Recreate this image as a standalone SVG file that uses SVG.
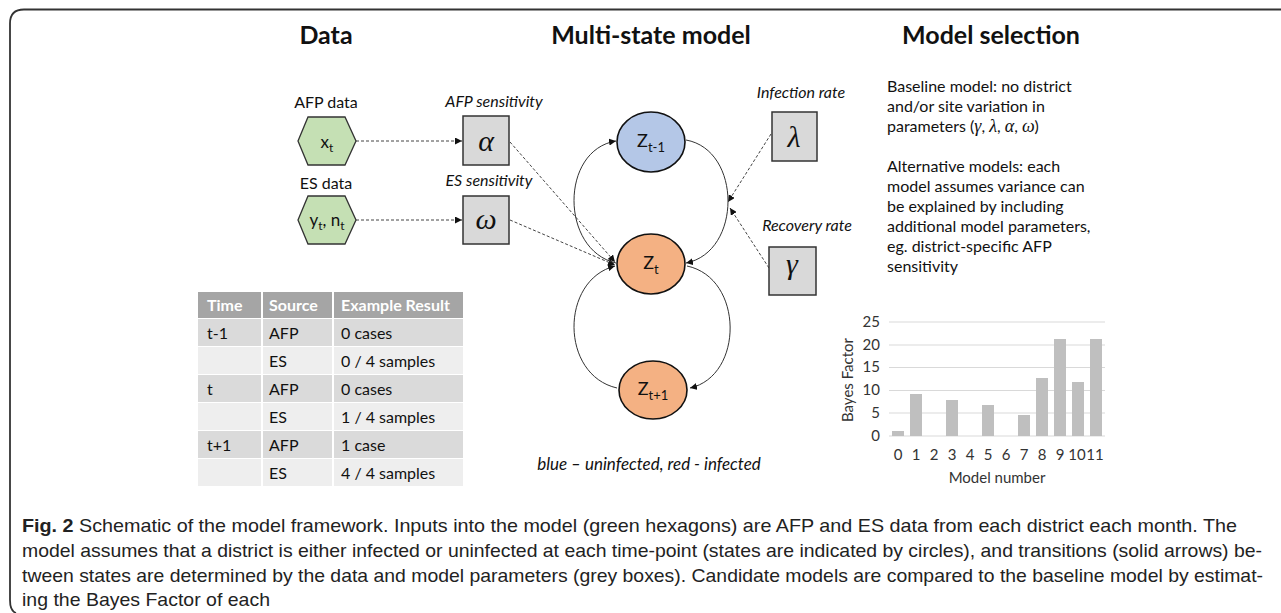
<svg xmlns="http://www.w3.org/2000/svg" width="1281" height="613" viewBox="0 0 1281 613">
<defs>
<marker id="ah" viewBox="0 0 10 10" refX="10" refY="5" markerWidth="7" markerHeight="7" markerUnits="userSpaceOnUse" orient="auto"><path d="M0,0 L10,5 L0,10 z" fill="#111"/></marker>
<style>
.t{font-family:Lato,"Open Sans",sans-serif;fill:#111}
.h{font-family:Lato,"Open Sans",sans-serif;font-weight:bold;font-size:25px;fill:#111;text-anchor:middle}
.lbl{font-size:16px;text-anchor:middle}
.it{font-style:italic}
.gk{font-family:"Liberation Serif","DejaVu Serif",serif;font-style:italic;font-size:30px;text-anchor:middle;fill:#111}
.hex{fill:#c5e0b4;stroke:#333;stroke-width:1.3}
.box{fill:#d9d9d9;stroke:#333;stroke-width:1.5}
.dash{fill:none;stroke:#444;stroke-width:1;stroke-dasharray:3,2;marker-end:url(#ah)}
.arc{fill:none;stroke:#333;stroke-width:1;marker-end:url(#ah)}
.st{stroke:#111;stroke-width:1.6}
.z{font-size:18px;text-anchor:middle}
.tc{font-size:16px}
.th{font-size:16px;font-weight:bold;fill:#fff}
.ax{font-size:15px;fill:#333}
.cap{font-family:"Liberation Sans",Arial,sans-serif;font-size:19px;fill:#222}
</style>
</defs>
<rect width="1281" height="613" fill="#fff"/>
<path d="M1281,9.5 H24 Q10,9.5 10,23.5 V600 Q10,611 16,613" fill="none" stroke="#333" stroke-width="1.8"/>

<g id="titles">
<text class="h" x="326" y="44">Data</text>
<text class="h" x="651" y="44">Multi-state model</text>
<text class="h" x="991" y="44">Model selection</text>
</g>

<g id="connectors">
<path class="dash" d="M356,141 L462,141"/>
<path class="dash" d="M356,220 L462,220"/>
<path class="dash" d="M510,142 L615,262"/>
<path class="dash" d="M510,220 L615,265"/>
<path class="dash" d="M771,134 L728,202"/>
<path class="dash" d="M769,268 L730,208"/>
<path class="arc" d="M616,263 C560,250 560,150 616,141"/>
<path class="arc" d="M686,140 C742,150 742,252 686,263"/>
<path class="arc" d="M617,388 C560,375 560,280 615,266"/>
<path class="arc" d="M687,266 C744,278 744,376 690,388"/>
</g>

<g id="afp-data">
<text class="t lbl" x="326" y="108">AFP data</text>
<polygon class="hex" points="298,141 308,117 345,117 356,141 345,165 308,165"/>
<text class="t" x="327" y="148" font-size="17" text-anchor="middle">x<tspan font-size="12" dy="4">t</tspan></text>
</g>
<g id="es-data">
<text class="t lbl" x="326" y="189">ES data</text>
<polygon class="hex" points="298,220 308,196 345,196 356,220 345,244 308,244"/>
<text class="t" x="327" y="226" font-size="17" text-anchor="middle">y<tspan font-size="12" dy="4">t</tspan><tspan dy="-4">, n</tspan><tspan font-size="12" dy="4">t</tspan></text>
</g>

<g id="alpha">
<text class="t lbl it" x="494" y="107">AFP sensitivity</text>
<rect class="box" x="463" y="116" width="46" height="49"/>
<text class="gk" x="486" y="151">α</text>
</g>
<g id="omega">
<text class="t lbl it" x="489" y="186">ES sensitivity</text>
<rect class="box" x="463" y="196" width="46" height="48"/>
<text class="gk" x="486" y="229">ω</text>
</g>
<g id="lambda">
<text class="t lbl it" x="801" y="98">Infection rate</text>
<rect class="box" x="772" y="112" width="45" height="49"/>
<text class="gk" x="794" y="147">λ</text>
</g>
<g id="gamma">
<text class="t lbl it" x="807" y="231">Recovery rate</text>
<rect class="box" x="769" y="247" width="47" height="48"/>
<text class="gk" x="792" y="274">γ</text>
</g>

<g id="z-t-1">
<ellipse class="st" cx="651" cy="142" rx="34" ry="30" fill="#b4c7e7"/>
<text class="t z" x="651" y="147">Z<tspan font-size="13" dy="5">t-1</tspan></text>
</g>
<g id="z-t">
<ellipse class="st" cx="651" cy="264" rx="34" ry="30" fill="#f4b183"/>
<text class="t z" x="651" y="269">Z<tspan font-size="13" dy="5">t</tspan></text>
</g>
<g id="z-t1">
<ellipse class="st" cx="653" cy="390" rx="34" ry="29" fill="#f4b183"/>
<text class="t z" x="653" y="395">Z<tspan font-size="13" dy="5">t+1</tspan></text>
</g>
<text class="t it" x="649" y="470" font-size="17" text-anchor="middle">blue – uninfected, red - infected</text>

<g id="table">
<g fill="#a5a5a5"><rect x="198" y="292" width="63" height="26"/><rect x="263" y="292" width="69" height="26"/><rect x="334" y="292" width="129" height="26"/></g>
<g fill="#dadada">
<rect x="198" y="319" width="63" height="27"/><rect x="263" y="319" width="69" height="27"/><rect x="334" y="319" width="129" height="27"/>
<rect x="198" y="375" width="63" height="27"/><rect x="263" y="375" width="69" height="27"/><rect x="334" y="375" width="129" height="27"/>
<rect x="198" y="431" width="63" height="27"/><rect x="263" y="431" width="69" height="27"/><rect x="334" y="431" width="129" height="27"/>
</g>
<g fill="#eeeeee">
<rect x="198" y="347" width="63" height="27"/><rect x="263" y="347" width="69" height="27"/><rect x="334" y="347" width="129" height="27"/>
<rect x="198" y="403" width="63" height="27"/><rect x="263" y="403" width="69" height="27"/><rect x="334" y="403" width="129" height="27"/>
<rect x="198" y="459" width="63" height="27"/><rect x="263" y="459" width="69" height="27"/><rect x="334" y="459" width="129" height="27"/>
</g>
<g class="t th"><text x="207" y="311">Time</text><text x="269" y="311">Source</text><text x="341" y="311">Example Result</text></g>
<g class="t tc">
<text x="207" y="339">t-1</text><text x="269" y="339">AFP</text><text x="341" y="339">0 cases</text>
<text x="269" y="367">ES</text><text x="341" y="367">0 / 4 samples</text>
<text x="207" y="395">t</text><text x="269" y="395">AFP</text><text x="341" y="395">0 cases</text>
<text x="269" y="423">ES</text><text x="341" y="423">1 / 4 samples</text>
<text x="207" y="451">t+1</text><text x="269" y="451">AFP</text><text x="341" y="451">1 case</text>
<text x="269" y="479">ES</text><text x="341" y="479">4 / 4 samples</text>
</g>
</g>

<g id="model-text" class="t" font-size="16">
<text x="887" y="92">Baseline model: no district</text>
<text x="887" y="112">and/or site variation in</text>
<text x="887" y="132">parameters (<tspan font-family="Liberation Serif,serif" font-style="italic" font-size="18">γ</tspan>, <tspan font-family="Liberation Serif,serif" font-style="italic" font-size="18">λ</tspan>, <tspan font-family="Liberation Serif,serif" font-style="italic" font-size="18">α</tspan>, <tspan font-family="Liberation Serif,serif" font-style="italic" font-size="18">ω</tspan>)</text>
<text x="887" y="172">Alternative models: each</text>
<text x="887" y="192">model assumes variance can</text>
<text x="887" y="212">be explained by including</text>
<text x="887" y="232">additional model parameters,</text>
<text x="887" y="252">eg. district-specific AFP</text>
<text x="887" y="272">sensitivity</text>
</g>

<g id="chart">
<g stroke="#d9d9d9" stroke-width="1">
<line x1="889" y1="322" x2="1105" y2="322"/><line x1="889" y1="345" x2="1105" y2="345"/><line x1="889" y1="367.5" x2="1105" y2="367.5"/><line x1="889" y1="390.5" x2="1105" y2="390.5"/><line x1="889" y1="413" x2="1105" y2="413"/><line x1="889" y1="436" x2="1105" y2="436"/>
</g>
<g fill="#bfbfbf">
<rect x="892" y="431" width="12" height="5"/>
<rect x="910" y="394" width="12" height="42"/>
<rect x="946" y="400" width="12" height="36"/>
<rect x="982" y="405" width="12" height="31"/>
<rect x="1018" y="415" width="12" height="21"/>
<rect x="1036" y="378" width="12" height="58"/>
<rect x="1054" y="339" width="12" height="97"/>
<rect x="1072" y="382" width="12" height="54"/>
<rect x="1090" y="339" width="12" height="97"/>
</g>
<g class="t ax" text-anchor="end">
<text x="880" y="327">25</text><text x="880" y="350">20</text><text x="880" y="372">15</text><text x="880" y="395">10</text><text x="880" y="418">5</text><text x="880" y="441">0</text>
</g>
<g class="t ax" text-anchor="middle">
<text x="898" y="460">0</text><text x="916" y="460">1</text><text x="934" y="460">2</text><text x="952" y="460">3</text><text x="970" y="460">4</text><text x="988" y="460">5</text><text x="1006" y="460">6</text><text x="1024" y="460">7</text><text x="1042" y="460">8</text><text x="1060" y="460">9</text><text x="1077" y="460">10</text><text x="1095" y="460">11</text>
<text x="997" y="483">Model number</text>
<text transform="translate(853,380) rotate(-90)">Bayes Factor</text>
</g>
</g>

<g id="caption" class="cap">
<text x="22" y="532" textLength="1215" lengthAdjust="spacingAndGlyphs"><tspan font-weight="bold">Fig. 2</tspan> Schematic of the model framework. Inputs into the model (green hexagons) are AFP and ES data from each district each month. The</text>
<text x="22" y="557" textLength="1240" lengthAdjust="spacingAndGlyphs">model assumes that a district is either infected or uninfected at each time-point (states are indicated by circles), and transitions (solid arrows) be-</text>
<text x="22" y="582" textLength="1241" lengthAdjust="spacingAndGlyphs">tween states are determined by the data and model parameters (grey boxes). Candidate models are compared to the baseline model by estimat-</text>
<text x="22" y="606" textLength="248" lengthAdjust="spacingAndGlyphs">ing the Bayes Factor of each</text>
</g>
</svg>
